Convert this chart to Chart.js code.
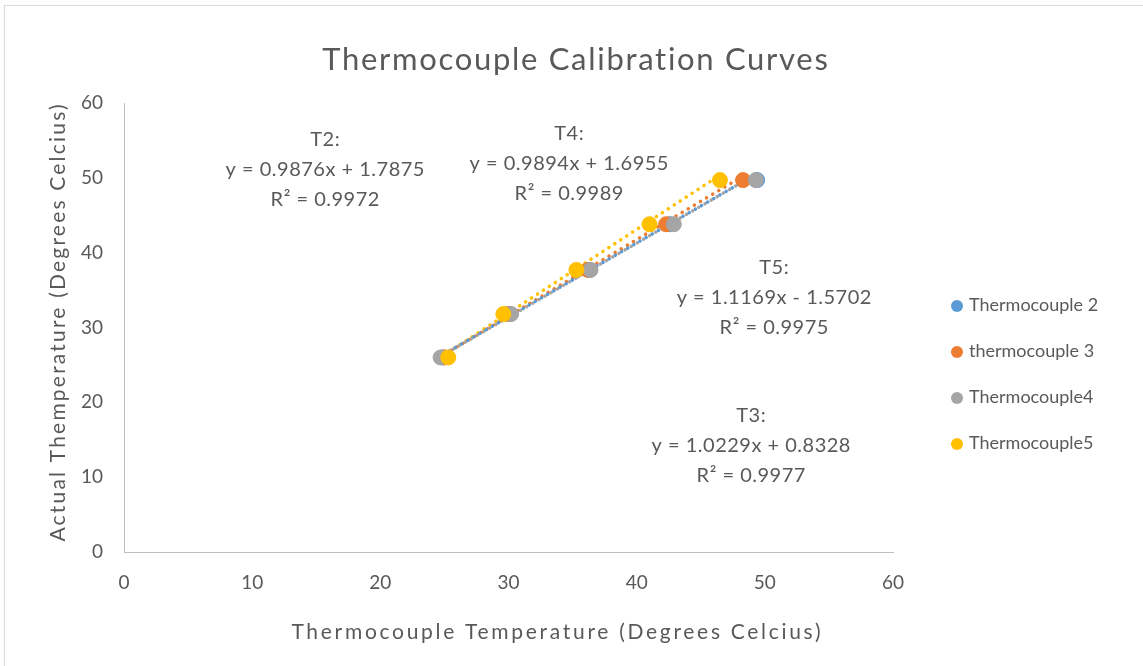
<!DOCTYPE html>
<html><head><meta charset="utf-8">
<script src="https://cdn.jsdelivr.net/npm/chart.js@4/dist/chart.umd.min.js"></script>
<style>html,body{margin:0;padding:0;background:#fff;}#wrap{width:1143px;height:666px;position:relative;}</style>
</head><body><div id="wrap"><canvas id="c" width="1143" height="666"></canvas></div>
<script>
const seriesNames = ['Thermocouple 2', 'thermocouple 3', 'Thermocouple4', 'Thermocouple5'];
const actualTemps = [26.0, 31.8, 37.7, 43.8, 49.7];
const tc2Readings = [24.9, 30.1, 36.3, 42.6, 49.4];
const tc3Readings = [25.0, 30.0, 36.2, 42.3, 48.3];
const tc4Readings = [24.7, 30.2, 36.4, 42.9, 49.3];
const tc5Readings = [25.3, 29.6, 35.3, 41.0, 46.5];
const trendSlopes = [0.9876, 1.0229, 0.9894, 1.1169];
const trendIntercepts = [1.7875, 0.8328, 1.6955, -1.5702];
const trendLabels = [
  ['T2:', 'y = 0.9876x + 1.7875', 'R² = 0.9972'],
  ['T3:', 'y = 1.0229x + 0.8328', 'R² = 0.9977'],
  ['T4:', 'y = 0.9894x + 1.6955', 'R² = 0.9989'],
  ['T5:', 'y = 1.1169x - 1.5702', 'R² = 0.9975']
];
const axisTicks = [0, 10, 20, 30, 40, 50, 60];
const chartTitle = 'Thermocouple Calibration Curves';
const xTitle = 'Thermocouple Temperature (Degrees Celcius)';
const yTitle = 'Actual Themperature (Degrees Celcius)';
const colors = ['#5B9BD5', '#ED7D31', '#A5A5A5', '#FFC000'];
const FONT = 'Lato';
const TXT = '#595959';

const readings = [tc2Readings, tc3Readings, tc4Readings, tc5Readings];
const datasets = [];
readings.forEach((xs, i) => {
  const lo = Math.min(...xs), hi = Math.max(...xs);
  datasets.push({
    type: 'line', label: seriesNames[i] + ' trend',
    data: [{x: lo, y: trendSlopes[i] * lo + trendIntercepts[i]}, {x: hi, y: trendSlopes[i] * hi + trendIntercepts[i]}],
    borderColor: colors[i], borderWidth: 3.5, borderDash: [0.1, 7], borderCapStyle: 'round',
    pointRadius: 0, fill: false, order: 10 + i
  });
});
readings.forEach((xs, i) => {
  datasets.push({
    type: 'scatter', label: seriesNames[i],
    data: xs.map((x, k) => ({x: x, y: actualTemps[k]})),
    backgroundColor: colors[i], borderColor: colors[i], pointRadius: 7.5, pointHoverRadius: 7.5,
    order: 4 - i
  });
});

// annotation positions (label index, center x px, first line y px)
const annoPos = [[0, 325, 140], [2, 569, 134], [3, 774, 268], [1, 751, 416]];
const annoSpacing = 30;

function spacedText(ctx, text, x, y, spacing) {
  ctx.letterSpacing = spacing + 'px';
  ctx.fillText(text, x + spacing / 2, y);
  ctx.letterSpacing = '0px';
}

const deco = {
  id: 'deco',
  beforeDraw(chart) {
    const ctx = chart.ctx;
    ctx.save();
    ctx.fillStyle = '#fff';
    ctx.fillRect(0, 0, chart.width, chart.height);
    ctx.strokeStyle = '#D9D9D9';
    ctx.lineWidth = 1;
    ctx.strokeRect(4.5, 5.5, 1160, 700);
    ctx.restore();
  },
  afterDraw(chart) {
    const ctx = chart.ctx;
    ctx.save();
    ctx.fillStyle = TXT;
    ctx.textAlign = 'center';
    ctx.textBaseline = 'middle';
    ctx.font = '31px ' + FONT;
    spacedText(ctx, chartTitle, 575, 60, 1.7);
    ctx.font = '20px ' + FONT;
    annoPos.forEach(([li, cx, y0]) => {
      trendLabels[li].forEach((t, k) => spacedText(ctx, t, cx, y0 + k * annoSpacing, 0.5));
    });
    // axis titles
    ctx.font = '21px ' + FONT;
    spacedText(ctx, xTitle, 556, 632, 2.7);
    ctx.save();
    ctx.translate(58, 323);
    ctx.rotate(-Math.PI / 2);
    spacedText(ctx, yTitle, 0, 0, 2.2);
    ctx.restore();
    // legend
    const rows = [305, 351, 397, 443];
    ctx.textAlign = 'left';
    ctx.font = '18px ' + FONT;
    seriesNames.forEach((n, i) => {
      ctx.beginPath();
      ctx.fillStyle = colors[i];
      ctx.arc(957, rows[i] + 1, 6, 0, Math.PI * 2);
      ctx.fill();
      ctx.fillStyle = TXT;
      ctx.fillText(n, 969, rows[i]);
    });
    ctx.restore();
  }
};

new Chart(document.getElementById('c'), {
  data: {datasets},
  options: {
    responsive: false, animation: false,
    layout: {padding: {top: 103, right: 250, left: 0, bottom: 0}},
    plugins: {legend: {display: false}, title: {display: false}, tooltip: {enabled: false}},
    scales: {
      x: {
        type: 'linear', min: 0, max: 60,
        afterFit(s) { s.height = 114; },
        afterBuildTicks(s) { s.ticks = axisTicks.map(v => ({value: v})); },
        grid: {display: false, drawTicks: false},
        border: {display: true, color: '#BFBFBF', width: 1},
        ticks: {color: TXT, font: {family: FONT, size: 19}, padding: 19},
        title: {display: false}
      },
      y: {
        type: 'linear', min: 0, max: 60,
        afterFit(s) { s.width = 124; },
        afterBuildTicks(s) { s.ticks = axisTicks.map(v => ({value: v})); },
        grid: {display: false, drawTicks: false},
        border: {display: true, color: '#BFBFBF', width: 1},
        ticks: {color: TXT, font: {family: FONT, size: 19}, padding: 21},
        title: {display: false}
      }
    }
  },
  plugins: [deco]
});
</script></body></html>
